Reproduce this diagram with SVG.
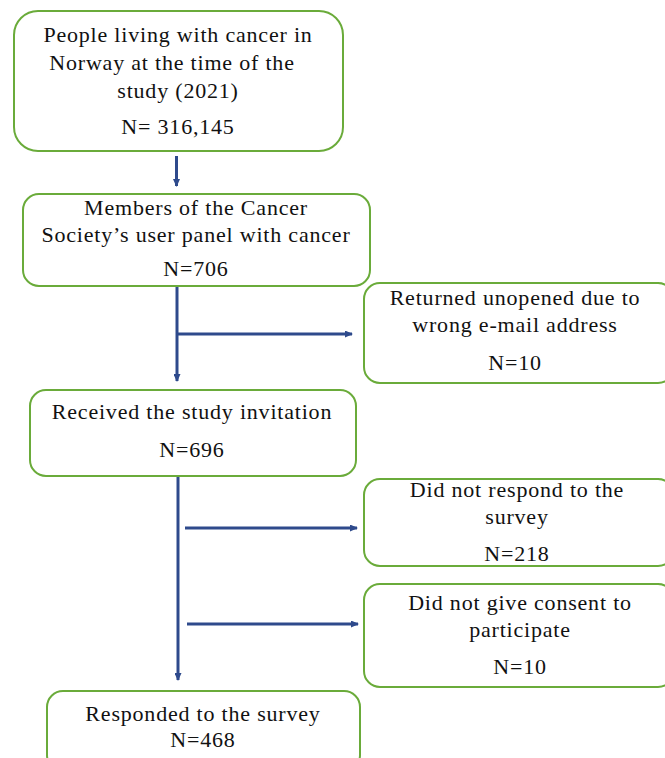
<svg xmlns="http://www.w3.org/2000/svg" width="665" height="758" viewBox="0 0 665 758">
<defs>
<marker id="ah" markerWidth="8" markerHeight="7" refX="7" refY="3.5" orient="auto" markerUnits="userSpaceOnUse" viewBox="0 0 8 7">
<path d="M0,0 L8,3.5 L0,7 Z" fill="#2E4A8C"/>
</marker>
<style>
.box{fill:#fff;stroke:#6AAB3A;stroke-width:2}
.t{font-family:"Liberation Serif","DejaVu Serif",serif;font-size:22px;letter-spacing:0.8px;fill:#111;text-anchor:middle}
.c{stroke:#2E4A8C;stroke-width:3;fill:none}
</style>
</defs>
<rect width="665" height="758" fill="#fff"/>
<g id="connectors">
<line class="c" x1="176.5" y1="156" x2="176.5" y2="186" marker-end="url(#ah)"/>
<line class="c" x1="177" y1="287" x2="177" y2="381" marker-end="url(#ah)"/>
<line class="c" x1="177" y1="334" x2="352" y2="334" marker-end="url(#ah)"/>
<line class="c" x1="178" y1="477" x2="178" y2="680" marker-end="url(#ah)"/>
<line class="c" x1="185" y1="528" x2="357" y2="528" marker-end="url(#ah)"/>
<line class="c" x1="187" y1="624" x2="358" y2="624" marker-end="url(#ah)"/>
</g>
<g id="n1">
<rect class="box" x="14" y="11" width="329" height="140" rx="24"/>
<text class="t" x="178" y="42">People living with cancer in</text>
<text class="t" x="172" y="70">Norway at the time of the</text>
<text class="t" x="178" y="98">study (2021)</text>
<text class="t" x="178" y="134">N= 316,145</text>
</g>
<g id="n2">
<rect class="box" x="23" y="194" width="347" height="92" rx="16"/>
<text class="t" x="196" y="215">Members of the Cancer</text>
<text class="t" x="196" y="242">Society’s user panel with cancer</text>
<text class="t" x="196" y="276">N=706</text>
</g>
<g id="n3">
<rect class="box" x="364" y="283" width="310" height="100" rx="16"/>
<text class="t" x="515" y="305">Returned unopened due to</text>
<text class="t" x="515" y="332">wrong e-mail address</text>
<text class="t" x="515" y="370">N=10</text>
</g>
<g id="n4">
<rect class="box" x="30" y="390" width="326" height="86" rx="16"/>
<text class="t" x="192" y="419">Received the study invitation</text>
<text class="t" x="192" y="457">N=696</text>
</g>
<g id="n5">
<rect class="box" x="364" y="479" width="310" height="87" rx="16"/>
<text class="t" x="517" y="497">Did not respond to the</text>
<text class="t" x="517" y="524">survey</text>
<text class="t" x="517" y="561">N=218</text>
</g>
<g id="n6">
<rect class="box" x="364" y="584" width="310" height="103" rx="16"/>
<text class="t" x="520" y="610">Did not give consent to</text>
<text class="t" x="520" y="637">participate</text>
<text class="t" x="520" y="674">N=10</text>
</g>
<g id="n7">
<rect class="box" x="47" y="691" width="313" height="80" rx="16"/>
<text class="t" x="203" y="721">Responded to the survey</text>
<text class="t" x="203" y="747">N=468</text>
</g>
</svg>
